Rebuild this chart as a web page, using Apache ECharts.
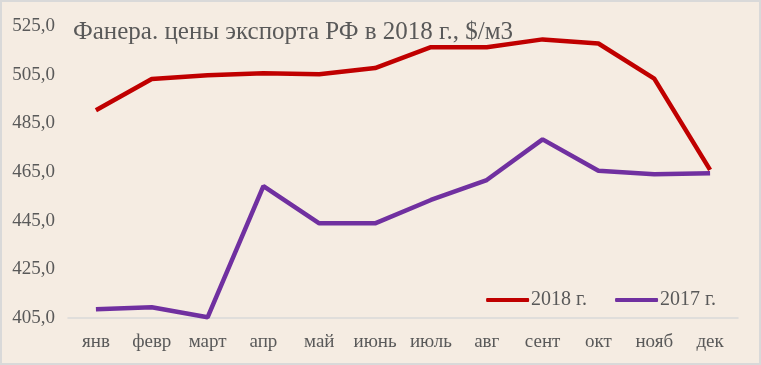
<!DOCTYPE html>
<html><head><meta charset="utf-8">
<script src="https://cdn.jsdelivr.net/npm/echarts@6/dist/echarts.min.js"></script>
<style>
html,body{margin:0;padding:0;background:#fff;}
#c{position:absolute;left:0;top:0;width:757px;height:361px;border:2px solid #D9D9D9;background:#F5ECE2;}
</style></head><body>
<div id="c"></div>
<script>
const categories = ['янв','февр','март','апр','май','июнь','июль','авг','сент','окт','нояб','дек'];
const series2018 = [490.4, 503.2, 504.8, 505.6, 505.2, 507.7, 516.3, 516.3, 519.5, 517.8, 503.4, 465.9];
const series2017 = [408.6, 409.4, 405.3, 459.2, 443.9, 443.9, 453.5, 461.7, 478.4, 465.5, 464.1, 464.5];
const yTicks = [405, 425, 445, 465, 485, 505, 525];

const chart = echarts.init(document.getElementById('c'), null, {renderer:'canvas'});
const font = '"Liberation Serif", "DejaVu Serif", serif';
chart.setOption({
  backgroundColor: '#F5ECE2',
  animation: false,
  title: {
    text: 'Фанера. цены экспорта РФ в 2018 г., $/м3',
    left: 66, top: 13,
    textStyle: {fontFamily: font, fontSize: 25, fontWeight: 'normal', color: '#595959'}
  },
  legend: {
    right: 38, top: 283,
    itemWidth: 43, itemHeight: 4, itemGap: 28,
    icon: 'roundRect',
    textStyle: {fontFamily: font, fontSize: 20, color: '#595959', padding: [0,0,0,-3]},
    data: ['2018 г.', '2017 г.']
  },
  grid: {left: 66, right: 21, top: 24, bottom: 45},
  xAxis: {
    type: 'category', data: categories, boundaryGap: true,
    axisLine: {lineStyle: {color: '#D9D9D9', width: 1.5}},
    axisTick: {show: false},
    axisLabel: {interval: 0, fontFamily: font, fontSize: 19, color: '#595959', margin: 15}
  },
  yAxis: {
    type: 'value', min: yTicks[0], max: yTicks[yTicks.length-1], interval: 20,
    axisLine: {show: false}, axisTick: {show: false}, splitLine: {show: false},
    axisLabel: {fontFamily: font, fontSize: 19, color: '#595959', margin: 13,
      formatter: v => v.toFixed(1).replace('.', ',')}
  },
  series: [
    {name: '2018 г.', type: 'line', data: series2018, symbol: 'none',
     lineStyle: {color: '#C00000', width: 4.5}, itemStyle: {color: '#C00000'}},
    {name: '2017 г.', type: 'line', data: series2017, symbol: 'none',
     lineStyle: {color: '#7030A0', width: 4.5}, itemStyle: {color: '#7030A0'}}
  ]
});
</script>
</body></html>
